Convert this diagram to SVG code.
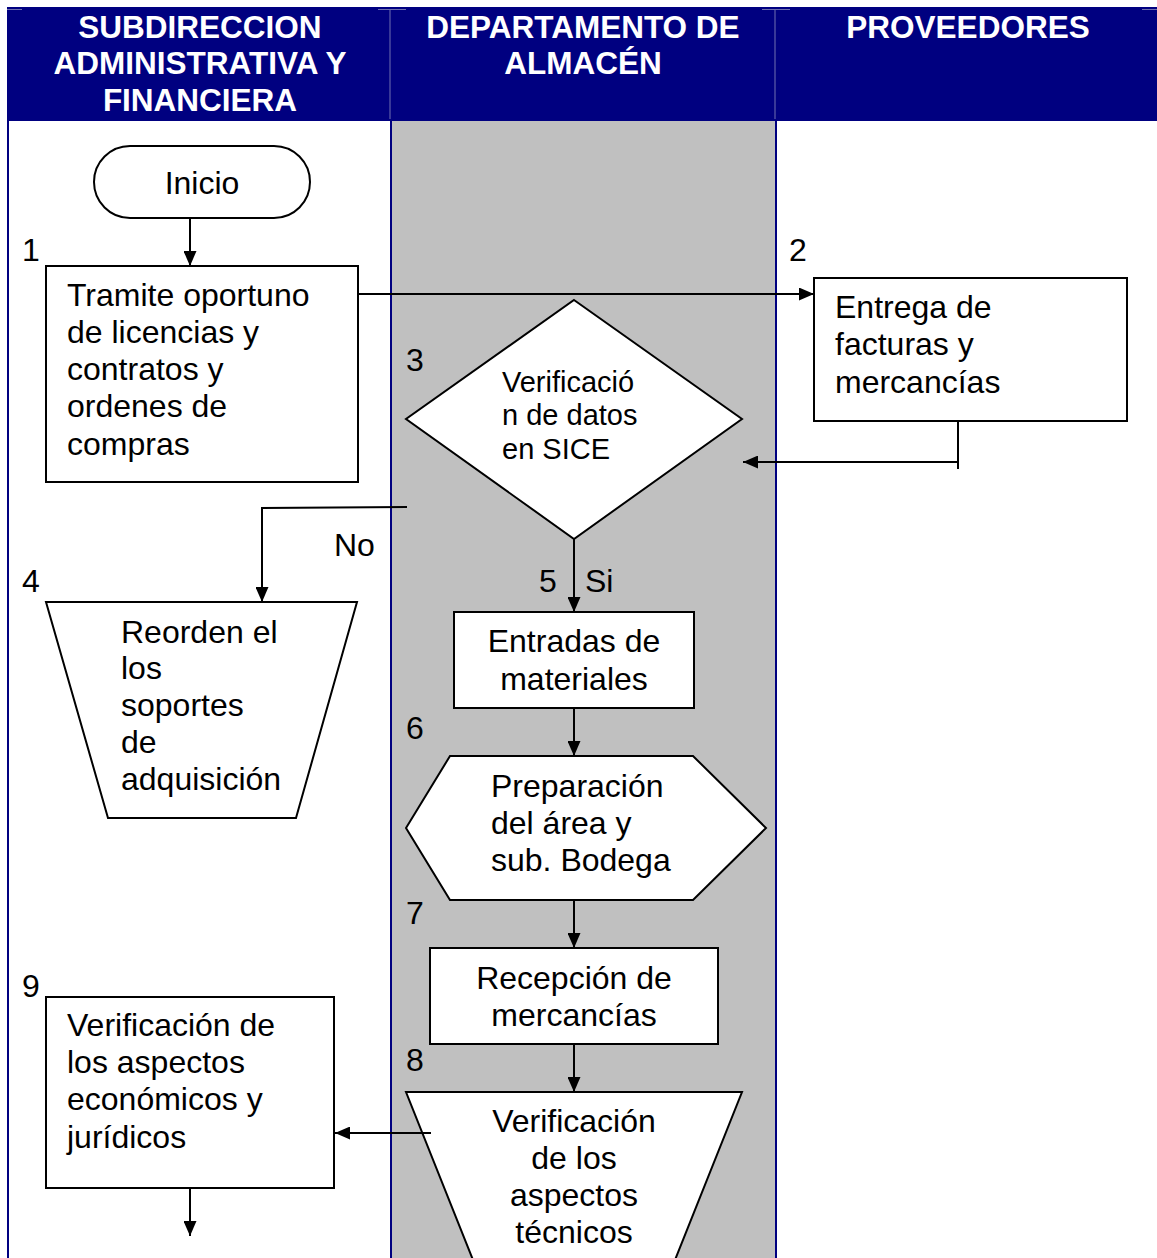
<svg xmlns="http://www.w3.org/2000/svg" width="1157" height="1258" viewBox="0 0 1157 1258">
  <style>
    .hdr { font-family: "Liberation Sans", Arial, sans-serif; font-weight: bold; font-size: 31.5px; fill: #ffffff; text-anchor: middle; }
    .t { font-family: "Liberation Sans", Arial, sans-serif; font-size: 32px; fill: #000000; }
    .ts { font-family: "Liberation Sans", Arial, sans-serif; font-size: 29px; fill: #000000; }
    .c { text-anchor: middle; }
    .shape { fill: #ffffff; stroke: #000000; stroke-width: 2; }
    .conn { fill: none; stroke: #000000; stroke-width: 2; }
    .lane { stroke: #000080; stroke-width: 2; }
    .grid { stroke: #7070b0; stroke-width: 1; }
  </style>
  <defs>
    <marker id="arrow" markerWidth="15" markerHeight="13" refX="15" refY="6.5" orient="auto" markerUnits="userSpaceOnUse">
      <path d="M0,0 L15,6.5 L0,13 Z" fill="#000000"/>
    </marker>
  </defs>

  <!-- lane backgrounds -->
  <rect x="0" y="0" width="1157" height="1258" fill="#ffffff"/>
  <rect x="391" y="121" width="385" height="1137" fill="#c0c0c0"/>

  <!-- header band -->
  <g id="header">
    <rect x="7" y="7" width="1150" height="114" fill="#000080"/>
    <line class="grid" x1="390" y1="9" x2="390" y2="119"/>
    <line class="grid" x1="775" y1="9" x2="775" y2="119"/>
    <line class="grid" x1="7" y1="9.5" x2="22" y2="9.5"/>
    <line class="grid" x1="378" y1="9.5" x2="406" y2="9.5"/>
    <line class="grid" x1="762" y1="9.5" x2="790" y2="9.5"/>
    <line class="grid" x1="1142" y1="9.5" x2="1157" y2="9.5"/>
    <text class="hdr" x="200" y="38">SUBDIRECCION</text>
    <text class="hdr" x="200" y="74">ADMINISTRATIVA Y</text>
    <text class="hdr" x="200" y="111">FINANCIERA</text>
    <text class="hdr" x="583" y="38">DEPARTAMENTO DE</text>
    <text class="hdr" x="583" y="74">ALMACÉN</text>
    <text class="hdr" x="968" y="38">PROVEEDORES</text>
  </g>

  <!-- lane dividers -->
  <line class="lane" x1="8" y1="121" x2="8" y2="1258"/>
  <line class="lane" x1="391" y1="121" x2="391" y2="1258"/>
  <line class="lane" x1="776" y1="121" x2="776" y2="1258"/>

  <!-- step numbers and branch labels -->
  <g id="labels">
    <text class="t" x="22" y="261">1</text>
    <text class="t" x="789" y="261">2</text>
    <text class="t" x="406" y="371">3</text>
    <text class="t" x="22" y="592">4</text>
    <text class="t" x="539" y="592">5</text>
    <text class="t" x="406" y="739">6</text>
    <text class="t" x="406" y="924">7</text>
    <text class="t" x="406" y="1071">8</text>
    <text class="t" x="22" y="997">9</text>
    <text class="t" x="334" y="556">No</text>
    <text class="t" x="585" y="592">Si</text>
  </g>

  <g id="inicio">
    <rect class="shape" x="94" y="146" width="216" height="72" rx="36" ry="36"/>
    <text class="t c" x="202" y="194">Inicio</text>
  </g>

  <g id="tramite">
    <rect class="shape" x="46" y="266" width="312" height="216"/>
    <text class="t" x="67" y="306">Tramite oportuno</text>
    <text class="t" x="67" y="343">de licencias y</text>
    <text class="t" x="67" y="380">contratos y</text>
    <text class="t" x="67" y="417">ordenes de</text>
    <text class="t" x="67" y="455">compras</text>
  </g>

  <g id="entrega">
    <rect class="shape" x="814" y="278" width="313" height="143"/>
    <text class="t" x="835" y="318">Entrega de</text>
    <text class="t" x="835" y="355">facturas y</text>
    <text class="t" x="835" y="393">mercancías</text>
  </g>

  <g id="verificacion-sice">
    <polygon class="shape" points="574,300 742,419 574,539 406,419"/>
    <text class="ts" x="502" y="392">Verificació</text>
    <text class="ts" x="502" y="425">n de datos</text>
    <text class="ts" x="502" y="459">en SICE</text>
  </g>

  <g id="reorden">
    <polygon class="shape" points="46,602 357,602 296,818 108,818"/>
    <text class="t" x="121" y="643">Reorden el</text>
    <text class="t" x="121" y="679">los</text>
    <text class="t" x="121" y="716">soportes</text>
    <text class="t" x="121" y="753">de</text>
    <text class="t" x="121" y="790">adquisición</text>
  </g>

  <g id="entradas">
    <rect class="shape" x="454" y="612" width="240" height="96"/>
    <text class="t c" x="574" y="652">Entradas de</text>
    <text class="t c" x="574" y="690">materiales</text>
  </g>

  <g id="preparacion">
    <polygon class="shape" points="406,828 450,756 693,756 766,828 693,900 450,900"/>
    <text class="t" x="491" y="797">Preparación</text>
    <text class="t" x="491" y="834">del área y</text>
    <text class="t" x="491" y="871">sub. Bodega</text>
  </g>

  <g id="recepcion">
    <rect class="shape" x="430" y="948" width="288" height="96"/>
    <text class="t c" x="574" y="989">Recepción de</text>
    <text class="t c" x="574" y="1026">mercancías</text>
  </g>

  <g id="verificacion-tecnica">
    <polygon class="shape" points="406,1092 742,1092 667,1280 481,1280"/>
    <text class="t c" x="574" y="1132">Verificación</text>
    <text class="t c" x="574" y="1169">de los</text>
    <text class="t c" x="574" y="1206">aspectos</text>
    <text class="t c" x="574" y="1243">técnicos</text>
  </g>

  <g id="verificacion-economica">
    <rect class="shape" x="46" y="997" width="288" height="191"/>
    <text class="t" x="67" y="1036">Verificación de</text>
    <text class="t" x="67" y="1073">los aspectos</text>
    <text class="t" x="67" y="1110">económicos y</text>
    <text class="t" x="67" y="1148">jurídicos</text>
  </g>

  <!-- connectors, drawn over the shapes -->
  <g id="connectors">
    <line class="conn" x1="190" y1="218" x2="190" y2="266" marker-end="url(#arrow)"/>
    <line class="conn" x1="358" y1="294" x2="814" y2="294" marker-end="url(#arrow)"/>
    <polyline class="conn" points="958,421 958,469"/>
    <line class="conn" x1="958" y1="462" x2="743" y2="462" marker-end="url(#arrow)"/>
    <polyline class="conn" points="407,507 262,508 262,602" marker-end="url(#arrow)"/>
    <line class="conn" x1="574" y1="539" x2="574" y2="612" marker-end="url(#arrow)"/>
    <line class="conn" x1="574" y1="708" x2="574" y2="756" marker-end="url(#arrow)"/>
    <line class="conn" x1="574" y1="900" x2="574" y2="948" marker-end="url(#arrow)"/>
    <line class="conn" x1="574" y1="1044" x2="574" y2="1092" marker-end="url(#arrow)"/>
    <line class="conn" x1="431" y1="1133" x2="335" y2="1133" marker-end="url(#arrow)"/>
    <line class="conn" x1="190" y1="1188" x2="190" y2="1236" marker-end="url(#arrow)"/>
  </g>
</svg>
